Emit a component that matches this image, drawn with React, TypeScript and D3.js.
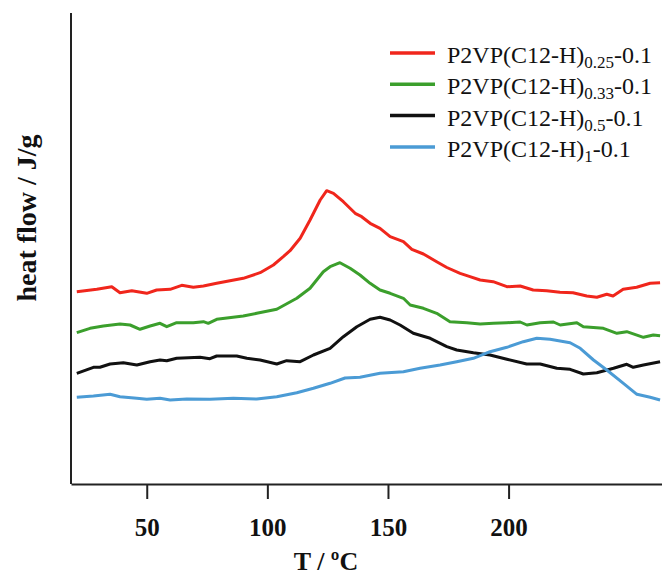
import React, { useRef, useEffect } from 'react';
import * as d3 from 'd3';

// temperature (°C) and heat flow (arbitrary units, offset per curve)
const red025: [number, number][] = [
  [21.0, 192.3], [29.3, 194.7], [35.5, 197.3], [38.9, 191.3], [43.8, 193.3], [50.0, 190.7],
  [54.1, 194], [59.7, 194.7], [64.5, 198.7], [69.3, 196.7], [73.5, 198], [79.0, 200.7],
  [90.0, 205.7], [97.0, 211.3], [102.5, 219], [106.6, 227.3], [109.4, 233.3], [113.6, 245.7],
  [117.7, 264], [121.9, 284], [124.6, 293.3], [127.4, 290.7], [131.5, 282.3], [136.4, 270.7],
  [139.1, 267.3], [142.6, 260.7], [146.7, 255.7], [150.9, 247.3], [156.4, 242.3], [159.9, 234.7],
  [164.7, 230], [170.2, 222.3], [174.4, 216.5], [179.9, 210.7], [184.0, 207.3], [188.2, 204],
  [193.6, 202.3], [199.3, 197.3], [204.8, 198], [210.2, 194], [215.8, 193.3], [221.3, 191.7],
  [226.7, 191.3], [232.4, 188], [236.6, 186.7], [240.7, 189.7], [243.3, 188], [247.5, 194.7],
  [253.1, 196.7], [258.7, 200.7], [262.8, 201.3],
];

const green033: [number, number][] = [
  [21.0, 151.3], [26.5, 155.7], [32.0, 158], [38.9, 160], [43.1, 159], [47.2, 154.7],
  [51.4, 158], [55.5, 160.7], [58.3, 157.3], [62.4, 161.3], [69.3, 161.3], [73.5, 162.3],
  [75.5, 160.7], [79.0, 164.7], [90.0, 168], [95.6, 170.7], [103.9, 174.7], [112.2, 185.7],
  [117.7, 195.7], [123.2, 212.3], [126.0, 217.3], [130.1, 221.3], [134.3, 215.7], [138.4, 209],
  [142.6, 200.7], [146.7, 194], [150.9, 190.7], [156.4, 185.7], [159.2, 179], [164.7, 175.7],
  [170.2, 170.7], [175.7, 162.3], [182.7, 161.3], [188.2, 160], [193.7, 160.7], [199.3, 161.3],
  [204.8, 162], [207.6, 159], [213.1, 161.3], [218.6, 162], [221.4, 159], [228.3, 161.3],
  [231.0, 157.3], [239.3, 155.7], [244.9, 150.7], [249.0, 152.3], [255.9, 146.7], [260.0, 149],
  [262.8, 148.3],
];

const black05: [number, number][] = [
  [21.0, 110.7], [27.9, 116.7], [30.6, 116.7], [34.8, 120], [40.3, 121.3], [45.9, 119],
  [51.4, 122.3], [55.5, 124], [58.3, 123.3], [62.4, 125.7], [72.1, 126.7], [76.2, 125.3],
  [79.0, 128], [87.3, 128], [91.5, 125.7], [97.0, 124], [103.9, 120], [108.0, 123.3],
  [113.6, 122.3], [119.1, 129], [126.0, 135.7], [131.5, 147.3], [137.1, 157.3], [142.6, 164.7],
  [146.7, 166.7], [150.9, 164], [155.0, 159], [160.5, 150.7], [167.5, 145.7], [174.4, 137.3],
  [178.5, 134], [185.4, 131.3], [192.3, 129], [199.3, 124.7], [207.5, 120], [213.1, 120],
  [220.0, 115.7], [225.5, 114.7], [231.0, 110], [236.6, 111.3], [243.5, 115.7], [249.0, 119.7],
  [251.7, 116.7], [255.9, 119], [262.8, 122.3],
];

const blue1: [number, number][] = [
  [21.0, 86.7], [27.9, 88], [34.8, 89.7], [38.9, 87.3], [45.9, 85.7], [50.0, 84.7],
  [55.5, 85.7], [59.7, 84], [66.6, 85], [76.2, 84.7], [85.9, 85.7], [95.6, 85],
  [103.9, 87.3], [112.2, 91.3], [119.1, 95.7], [126.0, 100.7], [132.2, 106], [138.4, 106.7],
  [146.7, 110.7], [156.4, 112.3], [163.3, 115.7], [171.6, 119], [178.5, 122.3], [185.4, 125.7],
  [192.3, 132.3], [199.3, 136.7], [206.1, 142.3], [211.7, 145.7], [217.2, 144.7], [225.5, 141.3],
  [229.7, 135.7], [235.2, 124], [240.7, 114], [247.6, 100.7], [253.2, 89.7], [258.7, 86.7],
  [262.8, 84],
];

const seriesNames = ['0.25', '0.33', '0.5', '1'];
const seriesColors = ['#f0261c', '#3b9f2c', '#111111', '#4b9bd5'];
const xTicks = [50, 100, 150, 200];

const App = () => {
  const svgRef = useRef<SVGSVGElement>(null);

  useEffect(() => {
    const svg = d3.select(svgRef.current);
    svg.selectAll('*').remove();

    const width = 662;
    const height = 575;
    const margin = { top: 13, right: 0, bottom: 91, left: 71 };

    const x = d3.scaleLinear()
      .domain([18.6, 263.6])
      .range([margin.left, width - margin.right]);

    const y = d3.scaleLinear()
      .domain([0, 471])
      .range([height - margin.bottom, margin.top]);

    const font = '"Liberation Serif", "Times New Roman", serif';

    // curves
    const line = d3.line<[number, number]>()
      .x(d => x(d[0]))
      .y(d => y(d[1]));

    const allSeries = [red025, green033, black05, blue1];
    allSeries.forEach((s, i) => {
      svg.append('path')
        .datum(s)
        .attr('fill', 'none')
        .attr('stroke', seriesColors[i])
        .attr('stroke-width', 3)
        .attr('stroke-linejoin', 'round')
        .attr('d', line);
    });

    // axes
    const xAxis = svg.append('g')
      .attr('transform', `translate(0,${height - margin.bottom})`)
      .call(d3.axisBottom(x).tickValues(xTicks).tickSize(15).tickSizeOuter(0).tickPadding(19));
    xAxis.select('.domain').attr('stroke', '#222').attr('stroke-width', 2);
    xAxis.selectAll('.tick line').attr('stroke', '#222').attr('stroke-width', 2);
    xAxis.selectAll('.tick text')
      .attr('fill', '#111')
      .style('font-family', font)
      .style('font-size', '25px')
      .style('font-weight', 'bold');

    svg.append('line')
      .attr('x1', margin.left)
      .attr('x2', margin.left)
      .attr('y1', margin.top)
      .attr('y2', height - margin.bottom)
      .attr('stroke', '#222')
      .attr('stroke-width', 2);

    svg.append('text')
      .attr('x', 326)
      .attr('y', 570)
      .attr('text-anchor', 'middle')
      .style('font-family', font)
      .style('font-size', '26px')
      .style('font-weight', 'bold')
      .attr('fill', '#111')
      .text('T / ºC');

    svg.append('text')
      .attr('transform', `translate(36,218) rotate(-90)`)
      .attr('text-anchor', 'middle')
      .style('font-family', font)
      .style('font-size', '28px')
      .style('font-weight', 'bold')
      .attr('fill', '#111')
      .text('heat flow / J/g');

    // legend
    const legend = svg.append('g');
    seriesNames.forEach((name, i) => {
      const ly = 53 + i * 31.3;
      legend.append('line')
        .attr('x1', 390)
        .attr('x2', 435)
        .attr('y1', ly)
        .attr('y2', ly)
        .attr('stroke', seriesColors[i])
        .attr('stroke-width', 3.5);
      const t = legend.append('text')
        .attr('x', 447)
        .attr('y', ly + 10)
        .style('font-family', font)
        .style('font-size', '24px')
        .attr('fill', '#111');
      t.append('tspan').text('P2VP(C12-H)');
      t.append('tspan').attr('dy', 5).style('font-size', '17px').text(name);
      t.append('tspan').attr('dy', -5).text('-0.1');
    });
  }, []);

  return (
    <svg
      ref={svgRef}
      width={662}
      height={575}
      style={{ position: 'absolute', left: 0, top: 0, background: '#fff' }}
    ></svg>
  );
};

export default App;
